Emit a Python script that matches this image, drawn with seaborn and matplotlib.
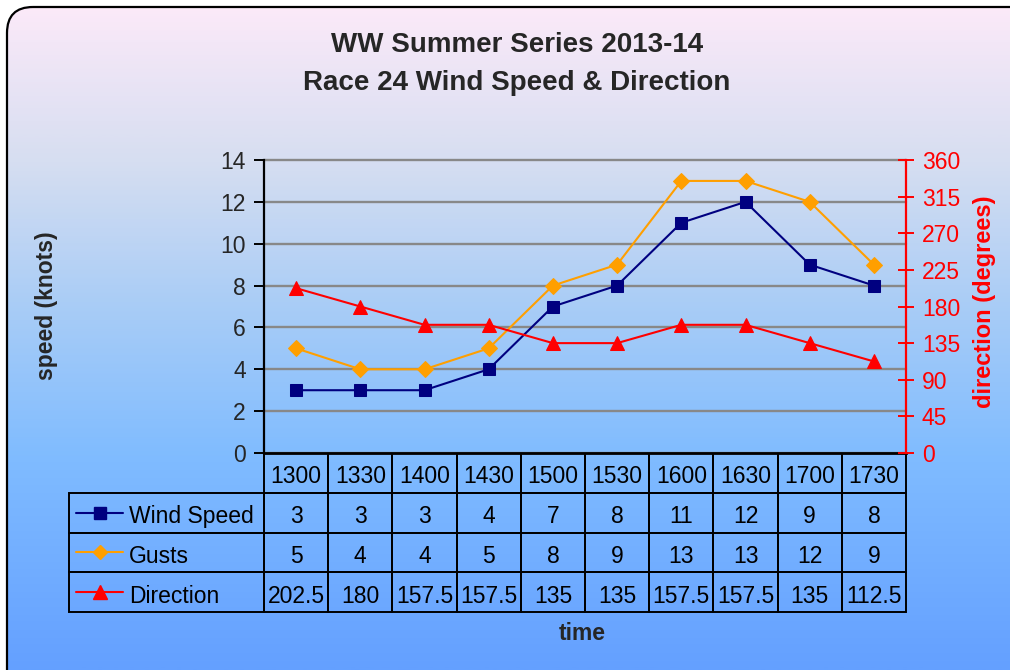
import numpy as np
import pandas as pd
import matplotlib
matplotlib.use("Agg")
import matplotlib.pyplot as plt
import seaborn as sns
from matplotlib.patches import FancyBboxPatch
from matplotlib.colors import LinearSegmentedColormap
from matplotlib.table import Table
from matplotlib.transforms import Affine2D

# ---------------- data ----------------
times = ["1300", "1330", "1400", "1430", "1500", "1530", "1600", "1630", "1700", "1730"]
wind_speed = [3, 3, 3, 4, 7, 8, 11, 12, 9, 8]
gusts = [5, 4, 4, 5, 8, 9, 13, 13, 12, 9]
direction = [202.5, 180, 157.5, 157.5, 135, 135, 157.5, 157.5, 135, 112.5]
series_names = ["Wind Speed", "Gusts", "Direction"]
title_lines = ["WW Summer Series 2013-14", "Race 24 Wind Speed & Direction"]
speed_ticks = list(range(0, 15, 2))
dir_ticks = list(range(0, 361, 45))

NAVY, ORANGE, RED = "#000080", "#FF9F00", "#FF0000"

sns.set_theme(style="white")
plt.rcParams["font.family"] = ["Liberation Sans", "DejaVu Sans"]

W, H = 1010, 670
fig = plt.figure(figsize=(W / 100, H / 100), dpi=100)
fig.patch.set_facecolor("white")

# ---------------- background gradient with rounded frame ----------------
bg = fig.add_axes([0, 0, 1, 1], zorder=-10)
bg.set_xlim(0, W)
bg.set_ylim(H, 0)
bg.axis("off")
cmap = LinearSegmentedColormap.from_list(
    "bg",
    [(0.0, (253/255, 234/255, 249/255)),
     (0.24, (214/255, 222/255, 241/255)),
     (0.45, (170/255, 205/255, 246/255)),
     (0.68, (128/255, 188/255, 255/255)),
     (1.0, (100/255, 160/255, 255/255))])
grad = np.linspace(0, 1, 400).reshape(-1, 1)
im = bg.imshow(grad, extent=(0, W, H, 0), aspect="auto", cmap=cmap, interpolation="bilinear")
frame = FancyBboxPatch((7, 7), 1030, 690, boxstyle="round,pad=0,rounding_size=26",
                       facecolor="none", edgecolor="black", linewidth=1.6)
bg.add_patch(frame)
im.set_clip_path(frame)

# ---------------- main axes ----------------
ax_l, ax_r, ax_t, ax_b = 264, 906, 160, 453
ax = fig.add_axes([ax_l / W, 1 - ax_b / H, (ax_r - ax_l) / W, (ax_b - ax_t) / H])
ax.patch.set_alpha(0)
pos = np.arange(len(times))
df = pd.DataFrame({"pos": pos, "speed": wind_speed, "gusts": gusts, "dir": direction})

sns.lineplot(data=df, x="pos", y="gusts", ax=ax, color=ORANGE, marker="D", markersize=8,
             markeredgecolor=ORANGE, linewidth=1.5, zorder=3)
sns.lineplot(data=df, x="pos", y="speed", ax=ax, color=NAVY, marker="s", markersize=8.5,
             markeredgecolor=NAVY, linewidth=1.5, zorder=4)
ax.set_xlim(-0.5, len(times) - 0.5)
ax.set_ylim(0, 14)
ax.set_yticks(speed_ticks)
ax.set_xticks([])
ax.set_xlabel("")
ax.set_ylabel("")
ax.yaxis.grid(True, color="#888888", linewidth=1.7)
for gl in ax.yaxis.get_gridlines():
    gl.set_clip_on(False)
ax.set_axisbelow(True)
ax.tick_params(axis="y", direction="out", length=7, width=1.4, color="black",
               labelsize=16.5, pad=6, left=True)
for s in ["top", "right"]:
    ax.spines[s].set_visible(False)
ax.spines["left"].set_color("black")
ax.spines["left"].set_linewidth(1.6)
ax.spines["bottom"].set_color("black")
ax.spines["bottom"].set_linewidth(2)

ax2 = ax.twinx()
ax2.patch.set_alpha(0)
sns.lineplot(data=df, x="pos", y="dir", ax=ax2, color=RED, marker="^", markersize=10,
             markeredgecolor=RED, linewidth=1.5, zorder=3)
ax2.set_ylim(0, 360)
ax2.set_yticks(dir_ticks)
ax2.set_xlim(-0.5, len(times) - 0.5)
ax2.set_xticks([])
ax2.set_xlabel("")
ax2.set_ylabel("")
ax2.grid(False)
ax2.tick_params(axis="y", direction="inout", length=11, width=1.4, colors=RED,
                labelsize=16.5, pad=6, right=True)
for s in ["top", "left", "bottom"]:
    ax2.spines[s].set_visible(False)
ax2.spines["right"].set_color(RED)
ax2.spines["right"].set_linewidth(1.6)

# ---------------- data table ----------------
ncol = len(times)
label_w = (ax_l - 69) / (ax_r - ax_l)
tbl_h = (612 - ax_b) / (ax_b - ax_t)
row_h = tbl_h / 4
rows_vals = [wind_speed, gusts, direction]
cell_text = [[f"{v:g}" for v in r] for r in rows_vals]
tbl = Table(ax, bbox=[0, -tbl_h, 1, tbl_h])
cw = 1.0 / ncol
for j, t in enumerate(times):
    tbl.add_cell(0, j, width=cw, height=row_h, text=t, loc="center", facecolor="none")
for i, name in enumerate(series_names):
    c = tbl.add_cell(i + 1, -1, width=label_w, height=row_h, text=name, loc="left",
                     facecolor="none")
    c.PAD = 60 / (ax_l - 69)
    for j, txt in enumerate(cell_text[i]):
        tbl.add_cell(i + 1, j, width=cw, height=row_h, text=txt, loc="center",
                     facecolor="none")
tbl.auto_set_font_size(False)
tbl.set_fontsize(16.5)
shift = Affine2D().translate(0, -4)
for (r, c), cell in tbl.get_celld().items():
    cell.set_edgecolor("black")
    cell.set_linewidth(1.4)
    t = cell.get_text()
    t.set_color("black")
    t.set_transform(t.get_transform() + shift)
ax.add_table(tbl)

# legend keys in row label cells
x0 = (76 - ax_l) / (ax_r - ax_l)
x1 = (123 - ax_l) / (ax_r - ax_l)
xm = (100 - ax_l) / (ax_r - ax_l)
for i, (col, mk, ms) in enumerate([(NAVY, "s", 8), (ORANGE, "D", 7.5), (RED, "^", 10)]):
    yc = -(i + 1.5) * row_h
    ax.plot([x0, x1], [yc, yc], color=col, lw=1.5, transform=ax.transAxes, clip_on=False)
    ax.plot([xm], [yc], color=col, marker=mk, ms=ms, mec=col, transform=ax.transAxes,
            clip_on=False)

# ---------------- texts ----------------
fig.text(517 / W, 1 - 64.5 / H, "\n".join(title_lines), ha="center", va="center",
         fontsize=20, fontweight="bold", linespacing=1.6)
fig.text(47 / W, 1 - 306 / H, "speed (knots)", rotation=90, ha="center", va="center",
         fontsize=16.5, fontweight="bold")
fig.text(985 / W, 1 - 302 / H, "direction (degrees)", rotation=90, ha="center", va="center",
         fontsize=17, fontweight="bold", color=RED)
fig.text(582 / W, 1 - 634 / H, "time", ha="center", va="center",
         fontsize=16.5, fontweight="bold")

fig.savefig("out.png", dpi=100)
